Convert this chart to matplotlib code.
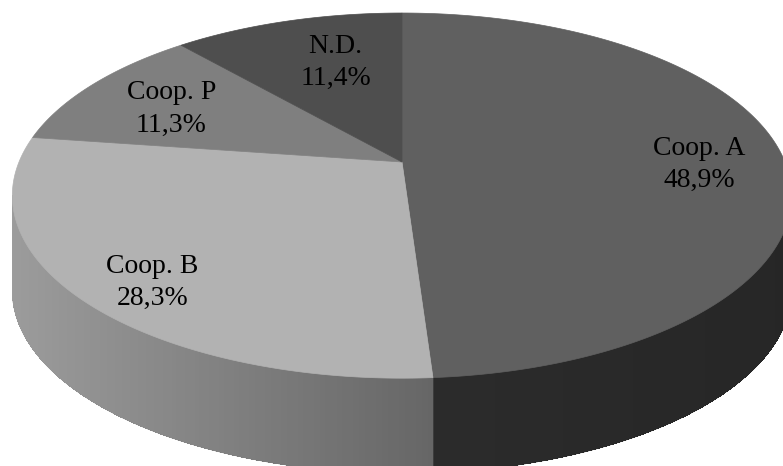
#!/usr/bin/env python3
"""
3-D style pie of cooperative shares, drawn by hand with patches
(perspective top face + shaded front wall), saved to out.png.
"""

import numpy as np
import matplotlib
matplotlib.use("Agg")
import matplotlib.pyplot as plt
from matplotlib.patches import Polygon

# Data
labels = ["Coop. A", "Coop. B", "Coop. P", "N.D."]
shares = [48.9, 28.3, 11.3, 11.4]

# Styling
top_greys = ["#606060", "#b2b2b2", "#7f7f7f", "#4e4e4e"]
side_greys = [(0.17, 0.15), (0.61, 0.40), (0.45, 0.40), (0.25, 0.22)]  # (left, right) shade
label_r = [0.78, 0.80, 0.73, 0.62]
label_nudge = [(0, 7), (0, 14), (0, 5), (9, -7)]

# Projection (pixel space, y down)
W, H = 783, 466
CX, CY = 402, 162      # where the slices meet
RX, RY = 383, 176.4
PERSP = 0.184          # near half looks bigger than far half
DEPTH = 95             # wall height in px


def project(phi, r=1.0, drop=0.0):
    """phi in radians, clockwise from 12 o'clock; returns screen x, y."""
    X = r * np.sin(phi)
    Y = r * np.cos(phi)
    w = 1 + PERSP * Y
    return CX + RX * X / w, CY - RY * Y / w + drop


def slice_bounds(vals):
    frac = np.asarray(vals, dtype=float) / np.sum(vals)
    edges = np.concatenate([[0], np.cumsum(frac)]) * 2 * np.pi
    return list(zip(edges[:-1], edges[1:]))


def pct(v):
    return f"{v:.1f}".replace(".", ",") + "%"


def main():
    fig = plt.figure(figsize=(W / 100, H / 100), dpi=100)
    ax = fig.add_axes([0, 0, 1, 1])
    ax.set_xlim(0, W)
    ax.set_ylim(H, 0)
    ax.axis("off")

    bounds = slice_bounds(shares)

    # visible wall runs between the two silhouette points (through the front)
    t = np.linspace(0, 2 * np.pi, 3601)
    xs, _ = project(t)
    phi_r = t[np.argmax(xs)]
    phi_l = t[np.argmin(xs)]

    # front wall: solid base, then thin strips for the gradient
    for (a0, a1), (c_left, c_right) in zip(bounds, side_greys):
        lo, hi = max(a0, phi_r), min(a1, phi_l)
        if hi <= lo:
            continue
        ang = np.linspace(lo, hi, 120)
        x_top, y_top = project(ang)
        _, y_bot = project(ang, drop=DEPTH)
        base = list(zip(x_top, y_top)) + list(zip(x_top[::-1], y_bot[::-1]))
        g0 = min(c_left, c_right)
        ax.add_patch(Polygon(base, closed=True, facecolor=(g0, g0, g0),
                             edgecolor=(g0, g0, g0), linewidth=0.5))
        xmin, xmax = x_top.min(), x_top.max()
        for i in range(len(ang) - 1):
            xm = 0.5 * (x_top[i] + x_top[i + 1])
            k = (xm - xmin) / (xmax - xmin)
            g = c_left + (c_right - c_left) * k
            pts = [(x_top[i], y_top[i]), (x_top[i + 1], y_top[i + 1]),
                   (x_top[i + 1], y_bot[i + 1]), (x_top[i], y_bot[i])]
            ax.add_patch(Polygon(pts, closed=True, facecolor=(g, g, g),
                                 edgecolor="none", antialiased=False))

    # top face
    for (a0, a1), col in zip(bounds, top_greys):
        ang = np.linspace(a0, a1, 200)
        x, y = project(ang)
        pts = [(CX, CY)] + list(zip(x, y))
        ax.add_patch(Polygon(pts, closed=True, facecolor=col,
                             edgecolor=col, linewidth=0.5))

    # labels
    for (a0, a1), lab, v, r, (dx, dy) in zip(bounds, labels, shares, label_r, label_nudge):
        x, y = project(0.5 * (a0 + a1), r=r)
        ax.text(x + dx, y + dy, f"{lab}\n{pct(v)}", ha="center", va="center",
                multialignment="center", fontsize=20, family="Liberation Serif",
                color="black", linespacing=1.4)

    fig.savefig("out.png", dpi=100)


if __name__ == "__main__":
    main()
